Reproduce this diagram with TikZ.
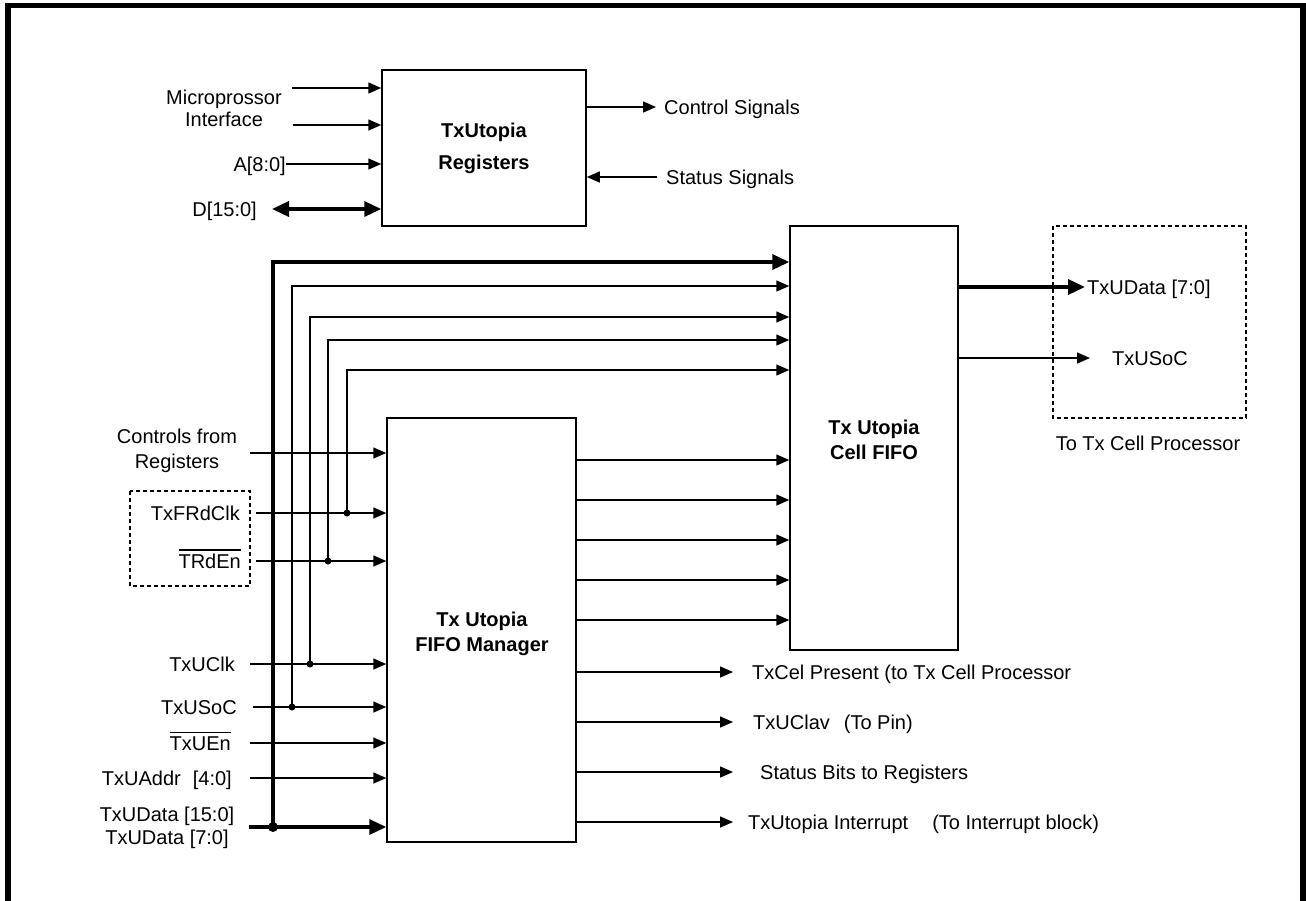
\documentclass[tikz,border=0pt]{standalone}
\usepackage{fontspec}
\setmainfont{Liberation Sans}
\usetikzlibrary{arrows.meta}
\newcommand{\ovl}[1]{\leavevmode\vbox{\hrule height 1.5pt\kern 3pt\hbox{#1}}}
\begin{document}
\begin{tikzpicture}[x=1pt,y=-1pt,
  font=\fontsize{20}{23}\selectfont,
  wire/.style={line width=1.5pt},
  bus/.style={line width=3.5pt},
  arr/.style={wire,-{Triangle[length=13pt,width=11pt]}},
  busarr/.style={bus,-{Triangle[length=17pt,width=15pt]}},
  blk/.style={draw,line width=1.5pt,inner sep=0pt},
  dashbox/.style={draw,line width=1.5pt,dash pattern=on 4pt off 3pt},
  jdot/.style={circle,fill,inner sep=0pt,minimum size=7pt},
  lbl/.style={inner sep=0pt,text height=14.3pt,text depth=0pt},
  mlbl/.style={inner sep=0pt,align=center},
  btxt/.style={inner sep=0pt,align=center,font=\fontsize{20}{25}\selectfont\bfseries}]
\useasboundingbox (0,0) rectangle (1306,900);
% frame
\draw[line width=5.5pt] (8,940) -- (8,5.5) -- (1303,5.5) -- (1303,940);

% blocks
\node[blk,minimum width=204pt,minimum height=156pt] (reg) at (484,148) {};
\node[btxt,font=\fontsize{20}{32}\selectfont\bfseries] (regtxt) at (484,148) {TxUtopia\\Registers};
\node[blk,minimum width=168pt,minimum height=424pt] (fifo) at (874,438) {};
\node[btxt] (fifotxt) at (874,440) {Tx Utopia\\Cell FIFO};
\node[blk,minimum width=189pt,minimum height=424pt] (mgr) at (481.5,630) {};
\node[btxt] (mgrtxt) at (482,634) {Tx Utopia\\FIFO Manager};

% register inputs
\node[mlbl,font=\fontsize{20}{22}\selectfont] (micro) at (224,108) {Microprossor\\Interface};
\coordinate (m1) at (292,88);
\coordinate (m2) at (293,125);
\draw[arr] (m1) -- (reg.west |- m1);
\draw[arr] (m2) -- (reg.west |- m2);
\node[lbl,anchor=east] (addr) at (286,164) {A[8:0]};
\draw[arr] (addr.east) -- (reg.west |- addr.east);
\node[lbl,anchor=east] (data) at (257,209) {D[15:0]};
\coordinate (dL) at (272,209);
\draw[bus,{Triangle[length=17pt,width=15pt]}-{Triangle[length=17pt,width=15pt]}] (dL) -- (reg.west |- dL);

% register outputs
\coordinate (cs) at (656,107);
\draw[arr] (reg.east |- cs) -- (cs);
\node[lbl,anchor=west] (cstxt) at (664,107) {Control Signals};
\coordinate (ss) at (657,177);
\draw[arr] (ss) -- (reg.east |- ss);
\node[lbl,anchor=west] (sstxt) at (666,177) {Status Signals};

% manager inputs
\node[mlbl,font=\fontsize{20}{25}\selectfont] (ctrl) at (177,451) {Controls from\\Registers};
\coordinate (ci) at (250,453);
\draw[arr] (ci) -- (mgr.west |- ci);

\draw[dashbox] (130,491) rectangle (250,586);
\node[lbl,anchor=east] (frd) at (240,513) {TxFRdClk};
\coordinate (frdS) at (256,513);
\draw[arr] (frdS) -- (mgr.west |- frdS);
\node[lbl,anchor=east] (trd) at (241,561) {\ovl{TRdEn}};
\coordinate (trdS) at (256,561);
\draw[arr] (trdS) -- (mgr.west |- trdS);

\node[lbl,anchor=east] (uclk) at (235,664) {TxUClk};
\coordinate (uclkS) at (250,664);
\draw[arr] (uclkS) -- (mgr.west |- uclkS);
\node[lbl,anchor=east] (usoc) at (237,707) {TxUSoC};
\coordinate (usocS) at (253,707);
\draw[arr] (usocS) -- (mgr.west |- usocS);
\node[lbl,anchor=east] (uen) at (231,743) {\ovl{TxUEn}};
\coordinate (uenS) at (250,743);
\draw[arr] (uenS) -- (mgr.west |- uenS);
\node[lbl,anchor=east] (uaddr) at (232,778) {TxUAddr\hspace{12pt}[4:0]};
\coordinate (uaddrS) at (250,778);
\draw[arr] (uaddrS) -- (mgr.west |- uaddrS);
\node[mlbl] (udata) at (167,828) {TxUData [15:0]\\TxUData [7:0]};
\coordinate (udataS) at (249,827);
\draw[busarr] (udataS) -- (mgr.west |- udataS);

% bus taps to the cell FIFO
\coordinate (jD) at (273,827);
\coordinate (jS) at (292,707);
\coordinate (jC) at (310,664);
\coordinate (jE) at (328,561);
\coordinate (jF) at (347,513);
\coordinate (t1) at (0,262);
\coordinate (t2) at (0,286);
\coordinate (t3) at (0,317);
\coordinate (t4) at (0,340);
\coordinate (t5) at (0,370);
\draw[busarr] (jD) |- (fifo.west |- t1);
\draw[arr] (jS) |- (fifo.west |- t2);
\draw[arr] (jC) |- (fifo.west |- t3);
\draw[arr] (jE) |- (fifo.west |- t4);
\draw[arr] (jF) |- (fifo.west |- t5);
\node[jdot,minimum size=10pt] at (jD) {};
\node[jdot] at (jS) {};
\node[jdot] at (jC) {};
\node[jdot] at (jE) {};
\node[jdot] at (jF) {};

% manager to FIFO
\foreach \yy in {460,500,540,580,620} {
  \coordinate (mf) at (0,\yy);
  \draw[arr] (mgr.east |- mf) -- (fifo.west |- mf);
}

% FIFO outputs
\draw[dashbox] (1053,226) rectangle (1246,418);
\coordinate (od) at (1085,287);
\draw[busarr] (fifo.east |- od) -- (od);
\node[lbl,anchor=west] (odtxt) at (1087,287) {TxUData [7:0]};
\coordinate (os) at (1090,358);
\draw[arr] (fifo.east |- os) -- (os);
\node[lbl] (ostxt) at (1150,358) {TxUSoC};
\node[lbl] (cap) at (1148,443) {To Tx Cell Processor};

% manager outputs
\coordinate (o1) at (733,672);
\coordinate (o2) at (733,722);
\coordinate (o3) at (733,772);
\coordinate (o4) at (733,822);
\draw[arr] (mgr.east |- o1) -- (o1);
\draw[arr] (mgr.east |- o2) -- (o2);
\draw[arr] (mgr.east |- o3) -- (o3);
\draw[arr] (mgr.east |- o4) -- (o4);
\node[lbl,anchor=west] (o1t) at (752,672) {TxCel Present (to Tx Cell Processor};
\node[lbl,anchor=west] (o2t) at (753,722) {TxUClav\hspace{14pt}(To Pin)};
\node[lbl,anchor=west] (o3t) at (760,772) {Status Bits to Registers};
\node[lbl,anchor=west] (o4t) at (748,822) {TxUtopia Interrupt\hspace{24pt}(To Interrupt block)};
\end{tikzpicture}
\end{document}
